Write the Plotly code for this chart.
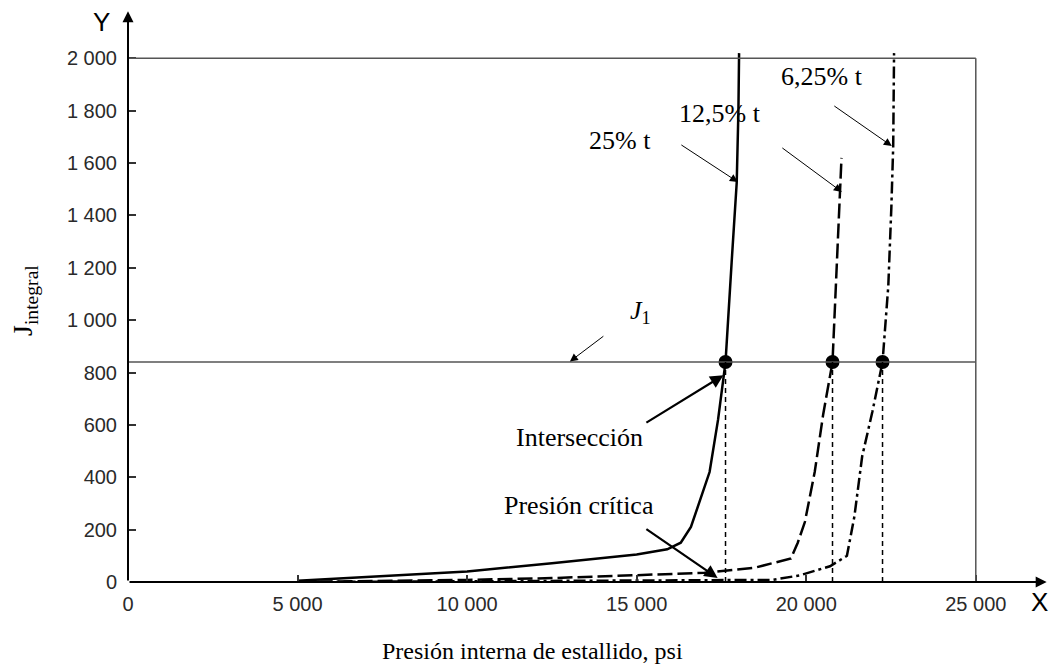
import plotly.graph_objects as go

# Internal burst pressure (psi) vs J-integral for three flaw depths
x_25 = [5000, 7500, 10000, 12500, 15000, 15900, 16300, 16600, 16900, 17150, 17400, 17620, 17800, 17950, 18000, 18020]
y_25 = [5, 22, 40, 72, 105, 125, 150, 210, 320, 420, 620, 840, 1220, 1525, 1800, 2020]

x_125 = [5000, 7500, 10000, 12500, 15000, 17000, 18500, 19550, 19750, 19960, 20250, 20500, 20775, 20940, 20990, 21040]
y_125 = [0, 4, 8, 15, 25, 35, 55, 90, 150, 229, 420, 640, 840, 1370, 1490, 1620]

x_625 = [5000, 8000, 11000, 14000, 17400, 19000, 19800, 20700, 21200, 21420, 21650, 21950, 22250, 22420, 22510, 22565, 22590]
y_625 = [0, 2, 3, 5, 6, 8, 25, 60, 100, 250, 480, 650, 840, 1130, 1430, 1665, 2020]

j1_level = 840
critical_pressures = [17620, 20775, 22250]

x_ticks = [0, 5000, 10000, 15000, 20000, 25000]
x_tick_text = ["0", "5 000", "10 000", "15 000", "20 000", "25 000"]
y_ticks = [0, 200, 400, 600, 800, 1000, 1200, 1400, 1600, 1800, 2000]
y_tick_text = ["0", "200", "400", "600", "800", "1 000", "1 200", "1 400", "1 600", "1 800", "2 000"]

x_limit = 25000
y_limit = 2000

SERIF = "Liberation Serif, Times New Roman, serif"
SANS = "Liberation Sans, Arial, sans-serif"
INK = "#000000"
FRAME = "#555555"

fig = go.Figure()

fig.add_trace(go.Scatter(x=x_25, y=y_25, mode="lines", cliponaxis=False,
                         line=dict(color=INK, width=2.5), showlegend=False))
fig.add_trace(go.Scatter(x=x_125, y=y_125, mode="lines", cliponaxis=False,
                         line=dict(color=INK, width=2.5, dash="15px,5px"), showlegend=False))
fig.add_trace(go.Scatter(x=x_625, y=y_625, mode="lines", cliponaxis=False,
                         line=dict(color=INK, width=2.5, dash="12px,4px,3px,4px"), showlegend=False))

shapes = [
    # outer frame (top and right)
    dict(type="line", xref="x", yref="y", x0=0, x1=x_limit, y0=y_limit, y1=y_limit,
         line=dict(color=FRAME, width=1.5)),
    dict(type="line", xref="x", yref="y", x0=x_limit, x1=x_limit, y0=0, y1=y_limit,
         line=dict(color=FRAME, width=1.5)),
    # J1 level
    dict(type="line", xref="x", yref="y", x0=0, x1=x_limit, y0=j1_level, y1=j1_level,
         line=dict(color=FRAME, width=1.5)),
]
for xc in critical_pressures:
    shapes.append(dict(type="line", xref="x", yref="y", x0=xc, x1=xc, y0=0, y1=j1_level,
                       line=dict(color=INK, width=1.5, dash="5px,4px")))

fig.add_trace(go.Scatter(x=critical_pressures, y=[j1_level] * len(critical_pressures),
                         mode="markers", cliponaxis=False,
                         marker=dict(color=INK, size=14), showlegend=False))

annotations = []


def arrow(x_head, y_head, x_tail, y_tail, width=1.0, size=1.6, head=2):
    annotations.append(dict(x=x_head, y=y_head, ax=x_tail, ay=y_tail,
                            xref="x", yref="y", axref="x", ayref="y",
                            text="", showarrow=True, arrowhead=head,
                            arrowsize=size, arrowwidth=width, arrowcolor=INK))


def label(x, y, text, size=26, family=SERIF, ref="x", **kw):
    yref = "y" if ref == "x" else "paper"
    kw.setdefault("xanchor", "center")
    kw.setdefault("yanchor", "middle")
    annotations.append(dict(x=x, y=y, xref=ref, yref=yref, text=text, showarrow=False,
                            font=dict(family=family, size=size, color=INK), **kw))


# axes with arrow tips
arrow(0, 2180, 0, 0, width=2, size=1.1)
arrow(27090, 0, 0, 0, width=2, size=1.1)
label(-0.0283, 0.972, "Y", size=26, family=SANS, ref="paper")
label(0.992, -0.035, "X", size=26, family=SANS, ref="paper")

# curve labels
label(14505, 1688, "25% t")
label(17453, 1791, "12,5% t")
label(20460, 1929, "6,25% t")
arrow(17984, 1528, 16274, 1673)
arrow(21050, 1490, 19251, 1662)
arrow(22524, 1665, 20784, 1822)

# J1 label
label(15124, 1030, "<i>J</i><sub>1</sub>")
arrow(13030, 842, 14062, 943)

# intersection and critical pressure
label(13300, 553, "Intersección")
arrow(17560, 790, 15242, 605, width=2.2, size=1.2)
label(13300, 293, "Presión crítica")
arrow(17388, 15, 15242, 206, width=2.2, size=1.2)

# axis titles
label(0.44, -0.12, "Presión interna de estallido, psi", size=24, ref="paper")
label(-0.112, 0.488, "J<sub>integral</sub>", size=28, ref="paper", textangle=-90)

fig.update_layout(
    width=1054, height=669,
    margin=dict(l=128, r=7, t=6, b=87),
    paper_bgcolor="white", plot_bgcolor="white",
    shapes=shapes, annotations=annotations,
    xaxis=dict(range=[0, 27100], showgrid=False, zeroline=False, showline=False,
               tickvals=x_ticks, ticktext=x_tick_text, ticks="inside", ticklen=7,
               tickwidth=1.5, tickcolor="#333", ticklabelstandoff=8,
               tickfont=dict(family=SANS, size=20, color="#2a2a2a")),
    yaxis=dict(range=[0, 2200], showgrid=False, zeroline=False, showline=False,
               tickvals=y_ticks, ticktext=y_tick_text, ticks="inside", ticklen=8,
               tickwidth=1.5, tickcolor="#333", ticklabelstandoff=10,
               tickfont=dict(family=SANS, size=20, color="#2a2a2a")),
)

fig.write_html("out.html")
